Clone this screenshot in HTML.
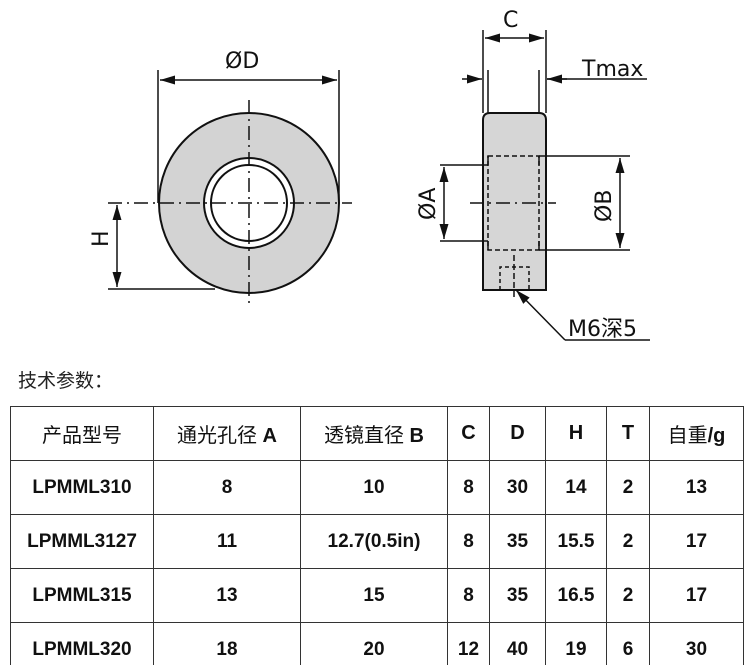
<!DOCTYPE html>
<html><head><meta charset="utf-8"><style>
html,body{margin:0;padding:0;background:#fff;width:750px;height:665px;overflow:hidden;position:relative;font-family:"Liberation Sans","Noto Sans CJK SC",sans-serif}
svg{position:absolute;left:0;top:0}
.t{position:absolute;left:18px;top:366px;font-size:19px;color:#222}
table{position:absolute;left:10px;top:406px;border-collapse:collapse;font-size:19px;font-weight:bold;color:#111}
td{border:1.5px solid #333;text-align:center;padding:0;height:53px}
tr:first-child td{font-weight:normal;font-size:20px}
</style></head><body>
<svg width="750" height="360" viewBox="0 0 750 360" font-family="DejaVu Sans, Liberation Sans, sans-serif">
<defs><marker id="a" markerWidth="10" markerHeight="6" refX="10" refY="3" orient="auto-start-reverse"><path d="M0,0 L10,3 L0,6z" fill="#111"/></marker></defs>
<g stroke="#111" fill="none" stroke-width="1.5">
<circle cx="249" cy="203" r="90" fill="#d3d3d3" stroke-width="2"/>
<circle cx="249" cy="203" r="45" fill="#fff" stroke-width="2"/>
<circle cx="249" cy="203" r="38" stroke-width="2"/>
<line x1="108" y1="203" x2="352" y2="203" stroke-dasharray="14,5,2,5"/>
<line x1="249" y1="100" x2="249" y2="308" stroke-dasharray="14,5,2,5"/>
<line x1="158" y1="70" x2="158" y2="203"/><line x1="339" y1="70" x2="339" y2="203"/>
<line x1="160" y1="80" x2="337" y2="80" marker-start="url(#a)" marker-end="url(#a)"/>
<line x1="108" y1="289" x2="215" y2="289"/>
<line x1="117" y1="205" x2="117" y2="287" marker-start="url(#a)" marker-end="url(#a)"/>
<path d="M483,120 Q483,113 490,113 L539,113 Q546,113 546,120 L546,290 L483,290 Z" fill="#d6d6d6" stroke-width="2"/>
<line x1="483" y1="30" x2="483" y2="113"/><line x1="546" y1="30" x2="546" y2="113"/>
<line x1="488" y1="70" x2="488" y2="113"/><line x1="539" y1="70" x2="539" y2="113"/>
<line x1="485" y1="38" x2="544" y2="38" marker-start="url(#a)" marker-end="url(#a)"/>
<line x1="462" y1="79" x2="482" y2="79" marker-end="url(#a)"/>
<line x1="567" y1="79" x2="547" y2="79" marker-end="url(#a)"/>
<line x1="547" y1="79" x2="647" y2="79"/>
<path d="M488,156 L539,156 L539,250 L488,250 Z" stroke-dasharray="5,3"/>
<line x1="488" y1="156" x2="488" y2="165"/><line x1="539" y1="156" x2="539" y2="165"/>
<line x1="488" y1="241" x2="488" y2="250"/><line x1="539" y1="241" x2="539" y2="250"/>
<line x1="440" y1="165" x2="488" y2="165"/><line x1="440" y1="241" x2="488" y2="241"/>
<line x1="444" y1="167" x2="444" y2="239" marker-start="url(#a)" marker-end="url(#a)"/>
<line x1="539" y1="156" x2="630" y2="156"/><line x1="539" y1="250" x2="630" y2="250"/>
<line x1="620" y1="158" x2="620" y2="248" marker-start="url(#a)" marker-end="url(#a)"/>
<line x1="470" y1="203" x2="556" y2="203" stroke-dasharray="14,5,2,5"/>
<path d="M500,290 L500,267 L529,267 L529,290" stroke-dasharray="4,3"/>
<line x1="514" y1="255" x2="514" y2="300" stroke-dasharray="6,3"/>
<line x1="565" y1="340" x2="516" y2="290" marker-end="url(#a)"/>
<line x1="565" y1="340" x2="650" y2="340"/>
</g>
<g fill="#111" font-size="22">
<text x="225" y="68">ØD</text>
<text x="503" y="27">C</text>
<text x="582" y="76">Tmax</text>
<text x="568" y="336" font-family="DejaVu Sans, Noto Sans CJK SC, sans-serif">M6深5</text>
<text transform="translate(108,247) rotate(-90)">H</text>
<text transform="translate(435,220) rotate(-90)">ØA</text>
<text transform="translate(611,222) rotate(-90)">ØB</text>
</g>
</svg>
<div class="t">技术参数：</div>
<table>
<tr><td style="width:142px">产品型号</td><td style="width:146px">通光孔径 <b>A</b></td><td style="width:146px">透镜直径 <b>B</b></td><td style="width:41px"><b>C</b></td><td style="width:55px"><b>D</b></td><td style="width:60px"><b>H</b></td><td style="width:42px"><b>T</b></td><td style="width:93px">自重<b>/g</b></td></tr>
<tr><td>LPMML310</td><td>8</td><td>10</td><td>8</td><td>30</td><td>14</td><td>2</td><td>13</td></tr>
<tr><td>LPMML3127</td><td>11</td><td>12.7(0.5in)</td><td>8</td><td>35</td><td>15.5</td><td>2</td><td>17</td></tr>
<tr><td>LPMML315</td><td>13</td><td>15</td><td>8</td><td>35</td><td>16.5</td><td>2</td><td>17</td></tr>
<tr><td>LPMML320</td><td>18</td><td>20</td><td>12</td><td>40</td><td>19</td><td>6</td><td>30</td></tr>
</table>
</body></html>
